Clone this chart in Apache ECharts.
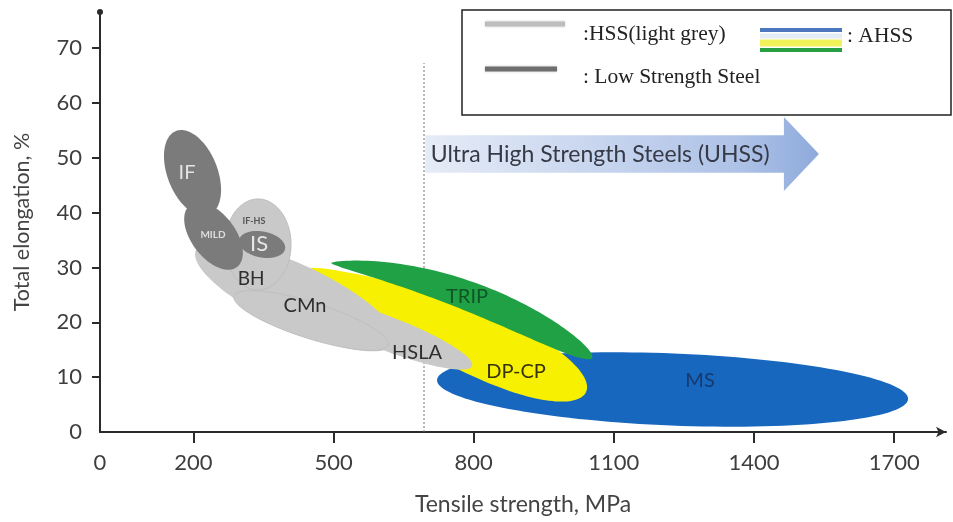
<!DOCTYPE html>
<html>
<head>
<meta charset="utf-8">
<script src="https://cdn.jsdelivr.net/npm/echarts@6/dist/echarts.min.js"></script>
<style>
  html, body { margin: 0; padding: 0; background: #fff; }
  #main { width: 953px; height: 522px; }
</style>
</head>
<body>
<div id="main"></div>
<script>
// steel families: each region is a stretched oval between two points
// (tensile strength MPa, total elongation %), with a spread and a bend in %,
// skew > 1 moves the fattest part towards the end point
const regionNames    = ['MS', 'DP-CP', 'TRIP', 'HSS band', 'HSLA', 'CMn', 'IF-HS', 'IF', 'MILD', 'IS'];
const regionStartTS  = [721.5, 449.6, 494.5, 205.5, 428.2, 286.9, 338.3, 162.7, 192.7, 297.6];
const regionStartEl  = [9.48, 29.91, 30.82, 33.19, 24.07, 24.80, 42.5, 54.90, 41.40, 35.02];
const regionEndTS    = [1729.8, 1040.5, 1053.3, 631.5, 796.4, 616.6, 338.3, 233.4, 293.3, 396.1];
const regionEndEl    = [6.02, 7.30, 13.50, 16.23, 12.04, 15.87, 25.9, 39.58, 30.09, 33.38];
const regionSpread   = [6.57, 5.84, 2.74, 5.84, 3.10, 3.28, 6.02, 4.56, 4.01, 2.37];
const regionBend     = [0, 0, 3.1, 0, 0, 0, 0, 0, 0, 0];
const regionSkew     = [1, 1.6, 1.4, 1, 1, 1, 1, 1, 1, 1];

// region labels
const labelText = ['IF', 'MILD', 'IF-HS', 'IS', 'BH', 'CMn', 'HSLA', 'TRIP', 'DP-CP', 'MS'];
const labelTS   = [186.3, 241.9, 329.7, 340.4, 323.3, 438.9, 678.7, 785.7, 890.6, 1284.5];
const labelEl   = [47.24, 35.93, 38.48, 34.29, 27.90, 22.98, 14.41, 24.62, 10.94, 9.30];

// UHSS limit and arrow
const uhssTS = 693.6;
const uhssTopEl = 67.3;
const arrowTS = [696, 1464, 1539];     // start, head base, tip
const arrowEl = [50.7, 3.4, 6.75];     // centre, body half height, head half height
const arrowText = 'Ultra High Strength Steels (UHSS)';

// axes
const xTickLabels = [0, 200, 500, 800, 1100, 1400, 1700];
const xTicks = [200, 500, 800, 1100, 1400, 1700];
const yTickLabels = [0, 10, 20, 30, 40, 50, 60, 70];
const yTicks = [10, 20, 30, 40, 50, 60, 70];

const lightGrey = '#c9c9c9';
const darkGrey = '#7b7b7b';
const regionStyle = {
  'MS': { fill: '#1867be' },
  'DP-CP': { fill: '#f7f000' },
  'TRIP': { fill: '#21a146' },
  'HSS band': { fill: lightGrey },
  'HSLA': { fill: lightGrey },
  'CMn': { fill: lightGrey, stroke: '#bfbfbf' },
  'IF-HS': { fill: lightGrey, stroke: '#bdbdbd' },
  'IF': { fill: darkGrey },
  'MILD': { fill: darkGrey },
  'IS': { fill: darkGrey }
};
const labelStyle = {
  'IF': { size: 20, color: '#e4e4e4' },
  'MILD': { size: 10, color: '#dddddd', weight: 'bold' },
  'IF-HS': { size: 9, color: '#555555', weight: 'bold' },
  'IS': { size: 22, color: '#e6e6e6' },
  'BH': { size: 19, color: '#2e2e2e' },
  'CMn': { size: 20, color: '#2e2e2e' },
  'HSLA': { size: 20, color: '#2e2e2e' },
  'TRIP': { size: 20, color: '#0f5424' },
  'DP-CP': { size: 20, color: '#35330a' },
  'MS': { size: 20, color: '#173a6e' }
};

const font = 'Lato, "Open Sans", sans-serif';
const serif = '"Liberation Serif", "Times New Roman", serif';

function renderRegion(params, api) {
  const i = params.dataIndex;
  const x1 = api.value(0), y1 = api.value(1), x2 = api.value(2), y2 = api.value(3);
  const half = api.size([0, api.value(4)])[1];
  const bend = api.value(5);
  const skew = api.value(6);
  const spine = t => api.coord([x1 + (x2 - x1) * t, y1 + (y2 - y1) * t + 4 * t * (1 - t) * bend]);
  const pts = [];
  const n = 140;
  for (let k = 0; k < n; k++) {
    const th = 2 * Math.PI * k / n;
    const u = (1 - Math.cos(th)) / 2;
    const t = Math.pow(u, 1 / skew);
    const a = spine(Math.max(0, t - 0.01)), b = spine(Math.min(1, t + 0.01));
    const dx = b[0] - a[0], dy = b[1] - a[1];
    const len = Math.hypot(dx, dy) || 1;
    const p = spine(t);
    const w = Math.sin(th) * half;
    pts.push([p[0] - dy / len * w, p[1] + dx / len * w]);
  }
  const st = regionStyle[regionNames[i]];
  return {
    type: 'polygon',
    z2: i,
    shape: { points: pts },
    style: { fill: st.fill, stroke: st.stroke || null, lineWidth: st.stroke ? 1 : 0 }
  };
}

function renderLabel(params, api) {
  const name = labelText[params.dataIndex];
  const st = labelStyle[name];
  const p = api.coord([api.value(0), api.value(1)]);
  return {
    type: 'text',
    z2: 50,
    style: {
      text: name, x: p[0], y: p[1], align: 'center', verticalAlign: 'middle',
      fill: st.color, fontSize: st.size, fontFamily: font, fontWeight: st.weight || 'normal'
    }
  };
}

function renderArrow(params, api) {
  const yc = arrowEl[0];
  const c = (x, y) => api.coord([x, y]);
  const pts = [
    c(arrowTS[0], yc + arrowEl[1]), c(arrowTS[1], yc + arrowEl[1]), c(arrowTS[1], yc + arrowEl[2]),
    c(arrowTS[2], yc), c(arrowTS[1], yc - arrowEl[2]), c(arrowTS[1], yc - arrowEl[1]),
    c(arrowTS[0], yc - arrowEl[1])
  ];
  const tp = c(arrowTS[0] + 12, yc);
  return {
    type: 'group',
    children: [
      {
        type: 'polygon',
        shape: { points: pts },
        style: {
          fill: new echarts.graphic.LinearGradient(0, 0, 1, 0, [
            { offset: 0, color: '#e6ecf7' },
            { offset: 0.8, color: '#aec2e7' },
            { offset: 1, color: '#8eaadb' }
          ])
        }
      },
      {
        type: 'text',
        style: {
          text: arrowText, x: tp[0], y: tp[1] + 1, align: 'left', verticalAlign: 'middle',
          fill: '#363a46', fontSize: 23, fontFamily: font
        }
      }
    ]
  };
}

const chart = echarts.init(document.getElementById('main'));
chart.setOption({
  animation: false,
  backgroundColor: '#fff',
  grid: { left: 100, right: 7, top: 12, bottom: 90 },
  xAxis: {
    type: 'value', min: 0, max: 1811,
    name: 'Tensile strength, MPa', nameLocation: 'middle', nameGap: 61,
    nameTextStyle: { fontFamily: font, fontSize: 23, color: '#444' },
    axisLine: { lineStyle: { color: '#2b2b2b', width: 2 }, symbol: ['none', 'arrow'], symbolSize: [8, 10] },
    axisTick: { customValues: xTicks, length: 11, lineStyle: { color: '#2b2b2b', width: 2 } },
    axisLabel: {
      customValues: xTickLabels, margin: 20, fontFamily: font, fontSize: 22, color: '#3e3e3e',
      formatter: v => String(v)
    },
    splitLine: { show: false }
  },
  yAxis: {
    type: 'value', min: 0, max: 76.6,
    name: 'Total elongation, %', nameLocation: 'middle', nameGap: 67, nameRotate: 90,
    nameTextStyle: { fontFamily: font, fontSize: 21.5, color: '#444' },
    axisLine: { show: true, lineStyle: { color: '#2b2b2b', width: 2 }, symbol: ['none', 'circle'], symbolSize: [6, 6] },
    axisTick: { show: true, customValues: yTicks, length: 8, lineStyle: { color: '#2b2b2b', width: 2 } },
    axisLabel: { customValues: yTickLabels, margin: 18, fontFamily: font, fontSize: 22, color: '#3e3e3e' },
    splitLine: { show: false }
  },
  graphic: [
    { type: 'rect', shape: { x: 462, y: 10, width: 489, height: 105 }, style: { fill: '#fff', stroke: '#222', lineWidth: 1.5 }, z: 10 },
    { type: 'line', shape: { x1: 485, y1: 24, x2: 565, y2: 24 }, style: { stroke: '#bdbdbd', lineWidth: 5, shadowBlur: 3, shadowColor: 'rgba(0,0,0,0.2)' }, z: 11 },
    { type: 'line', shape: { x1: 485, y1: 69, x2: 557, y2: 69 }, style: { stroke: '#6e6e6e', lineWidth: 5, shadowBlur: 3, shadowColor: 'rgba(0,0,0,0.2)' }, z: 11 },
    { type: 'line', shape: { x1: 760, y1: 30, x2: 842, y2: 30 }, style: { stroke: '#4d78bf', lineWidth: 4 }, z: 11 },
    { type: 'line', shape: { x1: 760, y1: 36, x2: 842, y2: 36 }, style: { stroke: '#e3ecf5', lineWidth: 5 }, z: 11 },
    { type: 'line', shape: { x1: 760, y1: 43, x2: 842, y2: 43 }, style: { stroke: '#f2f25a', lineWidth: 7 }, z: 11 },
    { type: 'line', shape: { x1: 760, y1: 50, x2: 842, y2: 50 }, style: { stroke: '#27a043', lineWidth: 4 }, z: 11 },
    { type: 'text', x: 583, y: 34, style: { text: ':HSS(light grey)', fontFamily: serif, fontSize: 21.5, fill: '#222', verticalAlign: 'middle' }, z: 11 },
    { type: 'text', x: 583, y: 77, style: { text: ': Low Strength Steel', fontFamily: serif, fontSize: 21.5, fill: '#222', verticalAlign: 'middle' }, z: 11 },
    { type: 'text', x: 847, y: 36, style: { text: ': AHSS', fontFamily: serif, fontSize: 21.5, fill: '#222', verticalAlign: 'middle' }, z: 11 }
  ],
  series: [
    {
      type: 'line',
      data: [[uhssTS, 0], [uhssTS, uhssTopEl]],
      symbol: 'none',
      lineStyle: { color: '#777', width: 1, type: [2, 2] },
      z: 1
    },
    {
      type: 'custom',
      renderItem: renderArrow,
      data: [[arrowTS[0], arrowEl[0]]],
      z: 2
    },
    {
      type: 'custom',
      renderItem: renderRegion,
      data: regionNames.map((n, i) => [regionStartTS[i], regionStartEl[i], regionEndTS[i], regionEndEl[i], regionSpread[i], regionBend[i], regionSkew[i]]),
      z: 3
    },
    {
      type: 'custom',
      renderItem: renderLabel,
      data: labelText.map((n, i) => [labelTS[i], labelEl[i]]),
      z: 4
    }
  ]
});
</script>
</body>
</html>
